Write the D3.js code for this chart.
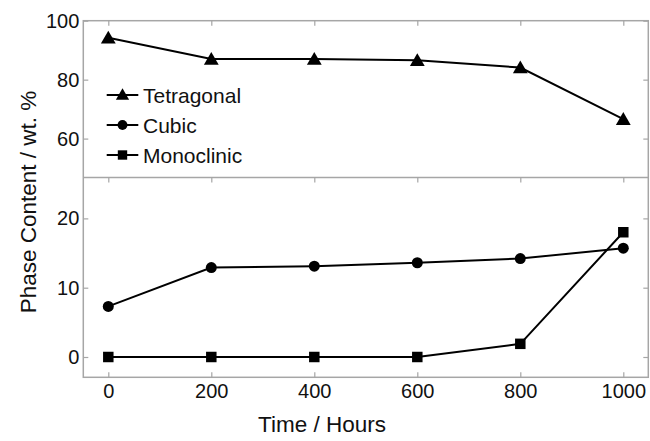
<!DOCTYPE html>
<html>
<head>
<meta charset="utf-8">
<script src="https://cdn.jsdelivr.net/npm/d3@7"></script>
<style>
  body { margin: 0; background: #fff; }
  text { font-family: "Liberation Sans", Arial, sans-serif; fill: #111; }
</style>
</head>
<body>
<svg id="chart"></svg>
<script>
// Data
const hours = [0, 200, 400, 600, 800, 1000];
const tetragonal = [94.2, 87.0, 87.0, 86.6, 84.1, 66.6];
const cubic = [7.3, 12.9, 13.1, 13.6, 14.2, 15.7];
const monoclinic = [0, 0, 0, 0, 1.9, 18.0];
const xTicks = [0, 200, 400, 600, 800, 1000];
const topTicks = [60, 80, 100];
const bottomTicks = [0, 10, 20];

const W = 650, H = 441;
const frameL = 83.3, frameR = 648.3, frameT = 20.7, frameMid = 177.5, frameB = 377.3;

const svg = d3.select("#chart").attr("width", W).attr("height", H);

const x = d3.scaleLinear().domain([0, 1000]).range([108.3, 623.3]);
const yTop = d3.scaleLinear().domain([46.8, 100]).range([frameMid, frameT]);
const yBot = d3.scaleLinear().domain([-2.93, 25.9]).range([frameB, frameMid]);

const frameColor = "#a6a6a6";
const tickFont = "20px";

// frame
svg.append("rect")
  .attr("x", frameL).attr("y", frameT)
  .attr("width", frameR - frameL).attr("height", frameB - frameT)
  .attr("fill", "none").attr("stroke", frameColor).attr("stroke-width", 1.5);
svg.append("line")
  .attr("x1", frameL).attr("x2", frameR).attr("y1", frameMid).attr("y2", frameMid)
  .attr("stroke", frameColor).attr("stroke-width", 1.5);

// inward ticks for one panel
function panelAxes(y, ticks, y0) {
  const g = svg.append("g");
  const la = g.append("g").attr("transform", `translate(${frameL},0)`)
    .call(d3.axisLeft(y).tickValues(ticks).tickSize(-5).tickPadding(4));
  const ra = g.append("g").attr("transform", `translate(${frameR},0)`)
    .call(d3.axisRight(y).tickValues(ticks).tickSize(-5).tickFormat(""));
  const ta = g.append("g").attr("transform", `translate(0,${y0})`)
    .call(d3.axisTop(x).tickValues(xTicks).tickSize(-5).tickFormat(""));
  [la, ra, ta].forEach(a => {
    a.select(".domain").remove();
    a.selectAll("line").attr("stroke", frameColor).attr("stroke-width", 1.2);
    a.selectAll("text").style("font-size", tickFont).attr("fill", "#111");
  });
}
panelAxes(yTop, topTicks, frameT);
panelAxes(yBot, bottomTicks, frameMid);

// bottom x axis with labels
const xa = svg.append("g").attr("transform", `translate(0,${frameB})`)
  .call(d3.axisBottom(x).tickValues(xTicks).tickSize(-5).tickPadding(7).tickFormat(d3.format("d")));
xa.select(".domain").remove();
xa.selectAll("line").attr("stroke", frameColor).attr("stroke-width", 1.2);
xa.selectAll("text").style("font-size", tickFont).attr("fill", "#111");

// axis titles
svg.append("text")
  .attr("x", 322).attr("y", 432)
  .attr("text-anchor", "middle").style("font-size", "22.5px")
  .text("Time / Hours");
svg.append("text")
  .attr("transform", `translate(36,202) rotate(-90)`)
  .attr("text-anchor", "middle").style("font-size", "22.5px")
  .text("Phase Content / wt. %");

// series
const series = [
  { name: "Tetragonal", values: tetragonal, y: yTop, sym: d3.symbolTriangle, size: 95 },
  { name: "Cubic", values: cubic, y: yBot, sym: d3.symbolCircle, size: 95 },
  { name: "Monoclinic", values: monoclinic, y: yBot, sym: d3.symbolSquare, size: 110 }
];

series.forEach(s => {
  const pts = hours.map((h, i) => [h, s.values[i]]);
  svg.append("path")
    .datum(pts)
    .attr("fill", "none").attr("stroke", "#000").attr("stroke-width", 2)
    .attr("d", d3.line().x(d => x(d[0])).y(d => s.y(d[1])));
  svg.selectAll(null)
    .data(pts)
    .enter()
    .append("path")
    .attr("d", d3.symbol().type(s.sym).size(s.size))
    .attr("transform", d => `translate(${x(d[0])},${s.y(d[1]) + (s.sym === d3.symbolTriangle ? 1.5 : 0)})`)
    .attr("fill", "#000");
});

// legend
const legend = svg.append("g");
series.forEach((s, i) => {
  const ly = 95 + i * 30;
  legend.append("line")
    .attr("x1", 106.7).attr("x2", 138.3).attr("y1", ly).attr("y2", ly)
    .attr("stroke", "#000").attr("stroke-width", 2);
  legend.append("path")
    .attr("d", d3.symbol().type(s.sym).size(s.size * 0.8))
    .attr("transform", `translate(122.5,${ly + (s.sym === d3.symbolTriangle ? 1 : 0)})`)
    .attr("fill", "#000");
  legend.append("text")
    .attr("x", 143).attr("y", ly + 7.5)
    .style("font-size", "21px")
    .text(s.name);
});
</script>
</body>
</html>
